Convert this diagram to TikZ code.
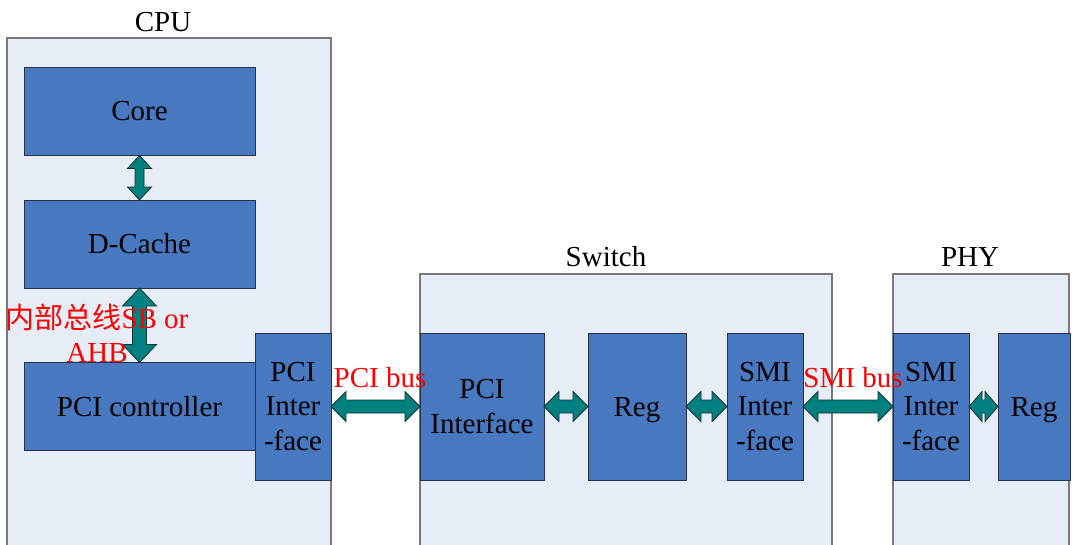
\documentclass[tikz,border=0pt]{standalone}
\usepackage{fontspec}
\setmainfont{Liberation Serif}
\newfontfamily\cjk{Noto Sans CJK SC}
\usetikzlibrary{calc}
\definecolor{contfill}{RGB}{231,237,247}
\definecolor{contdraw}{RGB}{120,120,125}
\definecolor{boxfill}{RGB}{72,121,192}
\definecolor{boxdraw}{RGB}{40,50,70}
\definecolor{arrfill}{RGB}{0,128,128}
\definecolor{arrdraw}{RGB}{20,50,50}
\definecolor{lblred}{RGB}{255,0,0}
\tikzset{
  container/.style={draw=contdraw, fill=contfill, line width=1.2pt},
  blockbox/.style={draw=boxdraw, fill=boxfill, line width=0.9pt, inner sep=0pt, outer sep=0pt,
    align=center, font=\fontsize{29}{34.5}\selectfont, text=black},
  title/.style={font=\fontsize{29}{34}\selectfont, text=black, inner sep=0pt},
  buslabel/.style={font=\fontsize{29}{34}\selectfont, text=lblred, inner sep=0pt, align=center},
  barrow/.style={draw=arrdraw, fill=arrfill, line width=0.8pt, line join=miter}
}
% horizontal double block arrow: #1 start, #2 end, #3 head half-width, #4 shaft half-width, #5 head length
\newcommand\blockarrowH[5]{%
  \path[barrow] (#1) -- ($(#1)+(#5,#3)$) -- ($(#1)+(#5,#4)$) -- ($(#2)+(-#5,#4)$) -- ($(#2)+(-#5,#3)$)
    -- (#2) -- ($(#2)+(-#5,-#3)$) -- ($(#2)+(-#5,-#4)$) -- ($(#1)+(#5,-#4)$) -- ($(#1)+(#5,-#3)$) -- cycle;}
% vertical double block arrow (y grows downward)
\newcommand\blockarrowV[5]{%
  \path[barrow] (#1) -- ($(#1)+(#3,#5)$) -- ($(#1)+(#4,#5)$) -- ($(#2)+(#4,-#5)$) -- ($(#2)+(#3,-#5)$)
    -- (#2) -- ($(#2)+(-#3,-#5)$) -- ($(#2)+(-#4,-#5)$) -- ($(#1)+(-#4,#5)$) -- ($(#1)+(-#3,#5)$) -- cycle;}
\begin{document}
\begin{tikzpicture}[x=1pt,y=-1pt]
\useasboundingbox (0,0) rectangle (1074,544);
\clip (0,0) rectangle (1074,544);
% containers
\draw[container] (7,38) rectangle (331,552);
\draw[container] (420,274) rectangle (832,552);
\draw[container] (893,274) rectangle (1069,552);
\node[title] (cputitle) at (163,22) {CPU};
\node[title] (swtitle) at (606,257) {Switch};
\node[title] (phytitle) at (970,257) {PHY};
% CPU blocks
\node[blockbox, minimum width=231pt, minimum height=88pt] (core) at (139.5,111.5) {Core};
\node[blockbox, minimum width=231pt, minimum height=88pt] (dcache) at (139.5,244) {D-Cache};
\node[blockbox, minimum width=231pt, minimum height=88pt] (pcictrl) at (139.5,406.5) {PCI controller};
\node[blockbox, minimum width=76pt, minimum height=147pt] (cpupci) at (293,406.5) {PCI\\Inter\\-face};
% Switch blocks
\node[blockbox, minimum width=124pt, minimum height=147pt] (swpci) at (482,406.5) {PCI\\Interface};
\node[blockbox, minimum width=98pt, minimum height=147pt, text depth=0pt] (swreg) at (637,406.5) {Reg};
\node[blockbox, minimum width=76pt, minimum height=147pt] (swsmi) at (765,406.5) {SMI\\Inter\\-face};
% PHY blocks
\node[blockbox, minimum width=76pt, minimum height=147pt] (physmi) at (931,406.5) {SMI\\Inter\\-face};
\node[blockbox, minimum width=72pt, minimum height=147pt, text depth=0pt] (phyreg) at (1034,406.5) {Reg};
% arrows
\blockarrowV{core.south}{dcache.north}{12}{4.5}{13}
\blockarrowV{dcache.south}{pcictrl.north}{17}{7}{18}
\blockarrowH{cpupci.east}{swpci.west}{15}{6.5}{15}
\blockarrowH{swpci.east}{swreg.west}{15}{6.5}{15}
\blockarrowH{swreg.east}{swsmi.west}{15}{6.5}{15}
\blockarrowH{swsmi.east}{physmi.west}{15}{6.5}{15}
\blockarrowH{physmi.east}{phyreg.west}{15}{6.5}{13}
% labels
\node[buslabel] (busint) at (97,333) {{\cjk 内部总线}SB or\\AHB};
\node[buslabel] (pcibus) at (380,378) {PCI bus};
\node[buslabel] (smibus) at (853,378) {SMI bus};
\end{tikzpicture}
\end{document}
